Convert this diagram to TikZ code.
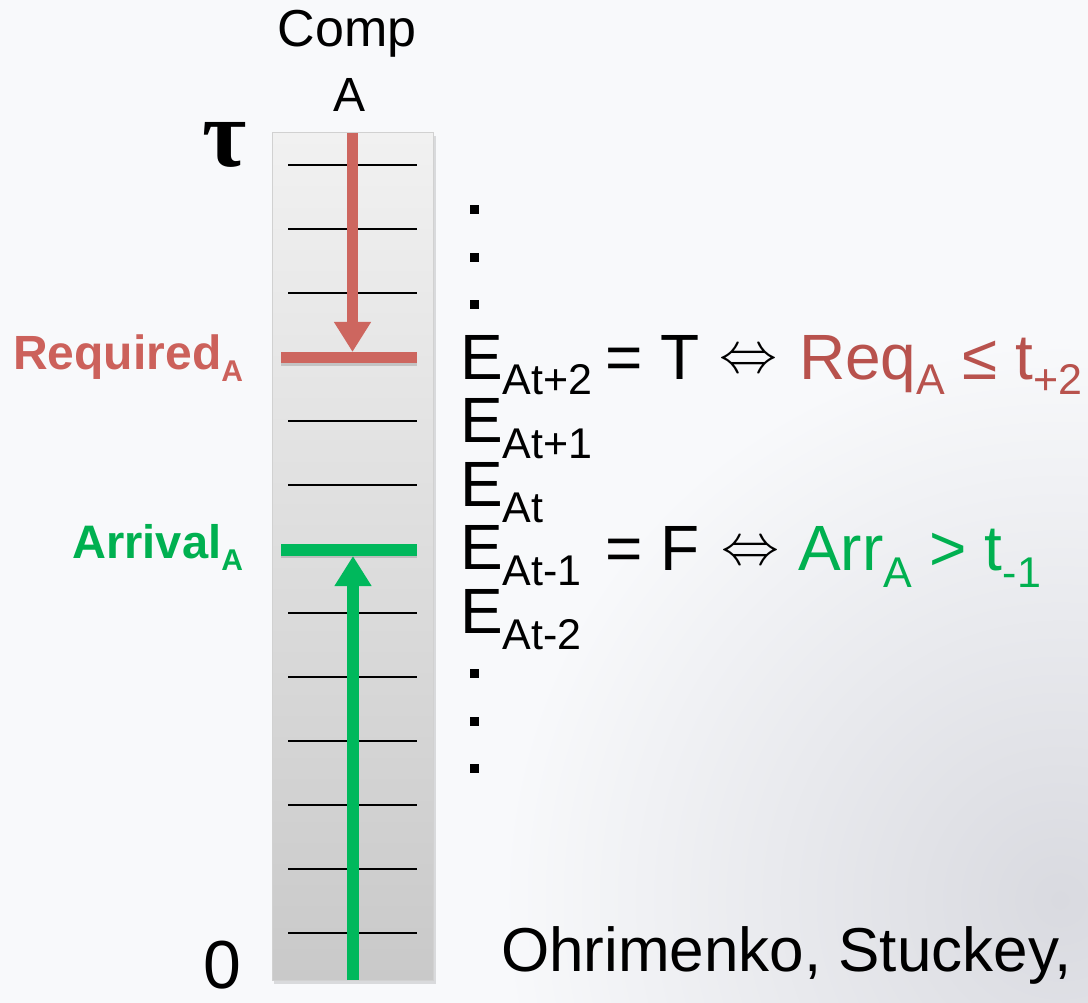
\documentclass[tikz,border=0pt]{standalone}
\usepackage{fontspec}
\setmainfont{Liberation Sans}
\newfontfamily\taufont{Liberation Serif}
\usetikzlibrary{arrows.meta}
\definecolor{bgc}{HTML}{F8F9FB}
\definecolor{redc}{HTML}{CD665F}
\definecolor{redt}{HTML}{CC615B}
\definecolor{reqc}{HTML}{B8524D}
\definecolor{grnc}{HTML}{00B85C}
\definecolor{grnt}{HTML}{00B050}
\definecolor{bartop}{HTML}{F1F1F1}
\definecolor{barbot}{HTML}{C9C9C9}
\definecolor{shadec}{HTML}{D9DAE0}
\newcommand\fsz[1]{\fontsize{#1}{#1}\selectfont}
\newcommand\lowsub[3]{\raisebox{-#1pt}{\fsz{#2}#3}}
\newcommand\iffsym{\resizebox{58pt}{!}{$\Leftrightarrow$}}
\tikzset{
  lbl/.style={inner sep=0pt, outer sep=0pt},
  tick/.style={line width=1.5pt, black},
  dotsq/.style={fill=black, draw=none},
  redarrow/.style={redc, line width=11pt, -{Triangle[width=35pt,length=30pt]}},
  grnarrow/.style={grnc, line width=12pt, -{Triangle[width=35pt,length=30pt]}},
  redbarst/.style={redc, line width=11pt},
  grnbarst/.style={grnc, line width=12pt},
  barshadow/.style={black, opacity=0.15, line width=8pt},
}
\begin{document}
\begin{tikzpicture}[x=1pt,y=-1pt]
% background
\fill[bgc] (0,0) rectangle (1088,1003);
\useasboundingbox (0,0) rectangle (1088,1003);
\begin{scope}
\clip (0,0) rectangle (1088,1003);
\shade[inner color=shadec, outer color=bgc] (1060,900) circle (560);
\end{scope}

% bar
\fill[black, opacity=0.12] (274,136) rectangle (436,984);
\shade[top color=bartop, bottom color=barbot, draw=black!18, line width=1pt] (272,133) rectangle (433,980);
\foreach \y in {165,229,293,421,485,613,677,741,805,869,933}
  \draw[tick] (288,\y) -- (417,\y);

% named coordinates
\coordinate (redtop) at (352.5,133);
\coordinate (redtip) at (352.5,352);
\coordinate (redL) at (281,357.5);
\coordinate (redR) at (417,357.5);
\coordinate (grnbot) at (353,980);
\coordinate (grntip) at (353,556);
\coordinate (grnL) at (281,550);
\coordinate (grnR) at (417,550);

% shadows of bars
\draw[barshadow] ([yshift=-4pt]redL) -- ([yshift=-4pt]redR);
\draw[barshadow] ([yshift=-4pt]grnL) -- ([yshift=-4pt]grnR);

% arrows and bars
\draw[redarrow] (redtop) -- (redtip);
\draw[redbarst] (redL) -- (redR);
\draw[grnarrow] (grnbot) -- (grntip);
\draw[grnbarst] (grnL) -- (grnR);

% header
\node[lbl, anchor=base] (comp) at (347,47) {\fsz{52}Comp};
\node[lbl, anchor=base] (compA) at (350,112) {\fsz{48}A};
\node[lbl, anchor=base] (tau) at (225,167) {\taufont\bfseries\fsz{96}τ};
\node[lbl, anchor=base] (zero) at (222.5,988) {\fsz{68}0};

% left labels
\node[lbl, anchor=base east, text=redt] (req) at (243,370) {\bfseries\fsz{48}Required\lowsub{12}{30}{A}};
\node[lbl, anchor=base east, text=grnt] (arr) at (243,558) {\bfseries\fsz{47}Arrival\lowsub{12}{30}{A}};

% dots
\foreach \y [count=\i] in {209.5,257.5,304.5,673.5,721.5,768.5}
  \fill[dotsq] (470,\y-4.5) rectangle (479,\y+4.5);

% E column
\node[lbl, anchor=base west] (e2) at (460,379) {\fsz{64}E\lowsub{16}{43}{At+2}};
\node[lbl, anchor=base west] (e1) at (460,442.5) {\fsz{64}E\lowsub{16}{43}{At+1}};
\node[lbl, anchor=base west] (e0) at (460,506) {\fsz{64}E\lowsub{16}{43}{At}};
\node[lbl, anchor=base west] (em1) at (460,569.5) {\fsz{64}E\lowsub{16}{43}{At-1}};
\node[lbl, anchor=base west] (em2) at (460,633) {\fsz{64}E\lowsub{16}{43}{At-2}};

% equations
\node[lbl, anchor=base west] (eqT) at (605,379) {\fsz{64}= T};
\node[lbl, anchor=center] (iffT) at (748.5,362) {\iffsym};
\node[lbl, anchor=base west, text=reqc] (reqexp) at (799,379) {\fsz{64}Req\lowsub{16}{43}{A} ≤ t\lowsub{16}{43}{+2}};

\node[lbl, anchor=base west] (eqF) at (605,570) {\fsz{64}= F};
\node[lbl, anchor=center] (iffF) at (750.5,554) {\iffsym};
\node[lbl, anchor=base west, text=grnt] (arrexp) at (798,570) {\fsz{64}Arr\lowsub{17}{43}{A} > t\lowsub{17}{43}{-1}};

% citation
\node[lbl, anchor=base west] (cite) at (501,971) {\fsz{62}Ohrimenko, Stuckey,};
\end{tikzpicture}
\end{document}
